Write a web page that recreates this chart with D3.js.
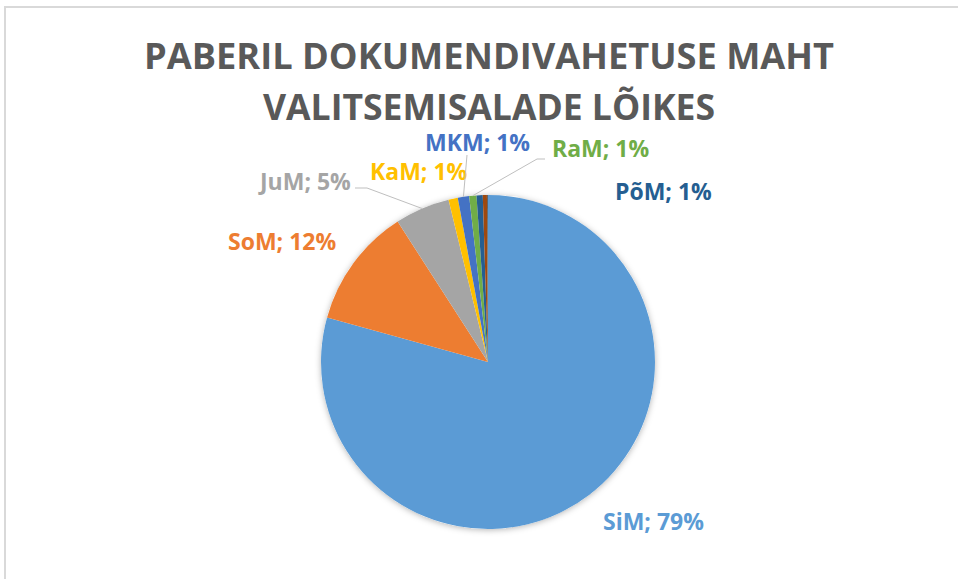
<!DOCTYPE html>
<html>
<head>
<meta charset="utf-8">
<script src="https://cdn.jsdelivr.net/npm/d3@7"></script>
<style>
	html, body { margin:0; padding:0; background:#fff; }
	svg { display:block; }
</style>
</head>
<body>
<div id="chart"></div>
<script>
// Chart data (share of paper document exchange, %)
var names = ["SiM", "SoM", "JuM", "KaM", "MKM", "RaM", "PõM", "", ""];
var values = [79.3, 11.6, 5.3, 0.9, 1.1, 0.7, 0.6, 0.4, 0.1];
var colors = ["#5B9BD5", "#ED7D31", "#A5A5A5", "#FFC000", "#4472C4", "#70AD47", "#255E91", "#9E480E", "#636363"];
var titleLines = ["PABERIL DOKUMENDIVAHETUSE MAHT", "VALITSEMISALADE LÕIKES"];

// SVG width and height
var width = 958;
var height = 579;
var cx = 488, cy = 362, radius = 167;

// Label placement: text anchor point (left, baseline) and optional leader line bend
var labelPos = {
	"SiM": { x: 603, y: 530 },
	"SoM": { x: 228, y: 250 },
	"JuM": { x: 260, y: 190, lead: [[355, 188], [367, 188]] },
	"KaM": { x: 370, y: 180 },
	"MKM": { x: 425, y: 151, lead: [[467, 155]] },
	"RaM": { x: 552, y: 157, lead: [[545, 159], [537, 159]] },
	"PõM": { x: 615, y: 200 }
};

var svg = d3.select("#chart").append("svg")
	.attr("width", width)
	.attr("height", height);

// Chart frame
svg.append("rect")
	.attr("x", 5).attr("y", 7)
	.attr("width", 1000).attr("height", 700)
	.attr("fill", "#fff")
	.attr("stroke", "#d9d9d9")
	.attr("stroke-width", 2);

// Title
svg.selectAll(".title")
	.data(titleLines)
	.enter().append("text")
	.attr("class", "title")
	.attr("x", width / 2 + 10)
	.attr("y", function(d, i){ return 69 + i * 51; })
	.attr("text-anchor", "middle")
	.attr("textLength", function(d, i){ return i == 0 ? 690 : 452; })
	.attr("lengthAdjust", "spacingAndGlyphs")
	.style("font-family", "'Open Sans', sans-serif")
	.style("font-weight", "bold")
	.style("font-size", "36px")
	.style("fill", "#595959")
	.text(function(d){ return d; });

// Soft shadow behind pie
var defs = svg.append("defs");
var filter = defs.append("filter")
	.attr("id", "shadow")
	.attr("x", "-20%").attr("y", "-20%")
	.attr("width", "140%").attr("height", "140%");
filter.append("feDropShadow")
	.attr("dx", 0).attr("dy", 1)
	.attr("stdDeviation", 3)
	.attr("flood-color", "#000")
	.attr("flood-opacity", 0.3);

var data = names.map(function(n, i){ return { name: n, value: values[i], color: colors[i] }; });

var pie = d3.pie()
	.sort(null)
	.value(function(d){ return d.value; });
var arc = d3.arc()
	.innerRadius(0)
	.outerRadius(radius);

var arcs = pie(data);

var g = svg.append("g")
	.attr("transform", "translate(" + cx + "," + cy + ")");

g.append("circle")
	.attr("r", radius)
	.attr("fill", "#fff")
	.style("filter", "url(#shadow)");

g.selectAll("path.slice")
	.data(arcs)
	.enter().append("path")
	.attr("class", "slice")
	.attr("d", arc)
	.attr("fill", function(d){ return d.data.color; });

// Labels and leader lines
var total = d3.sum(values);
arcs.forEach(function(a){
	var p = labelPos[a.data.name];
	if (!p) return;
	if (p.lead){
		var mid = (a.startAngle + a.endAngle) / 2;
		var edge = [cx + Math.sin(mid) * radius, cy - Math.cos(mid) * radius];
		var pts = p.lead.concat([edge]);
		svg.append("path")
			.attr("d", d3.line()(pts))
			.attr("fill", "none")
			.attr("stroke", "#bfbfbf")
			.attr("stroke-width", 1);
	}
	svg.append("text")
		.attr("x", p.x)
		.attr("y", p.y)
		.style("font-family", "'Open Sans', sans-serif")
		.style("font-weight", "bold")
		.style("font-size", "23px")
		.style("fill", a.data.color)
		.text(a.data.name + "; " + Math.round(a.data.value / total * 100) + "%");
});
</script>
</body>
</html>
